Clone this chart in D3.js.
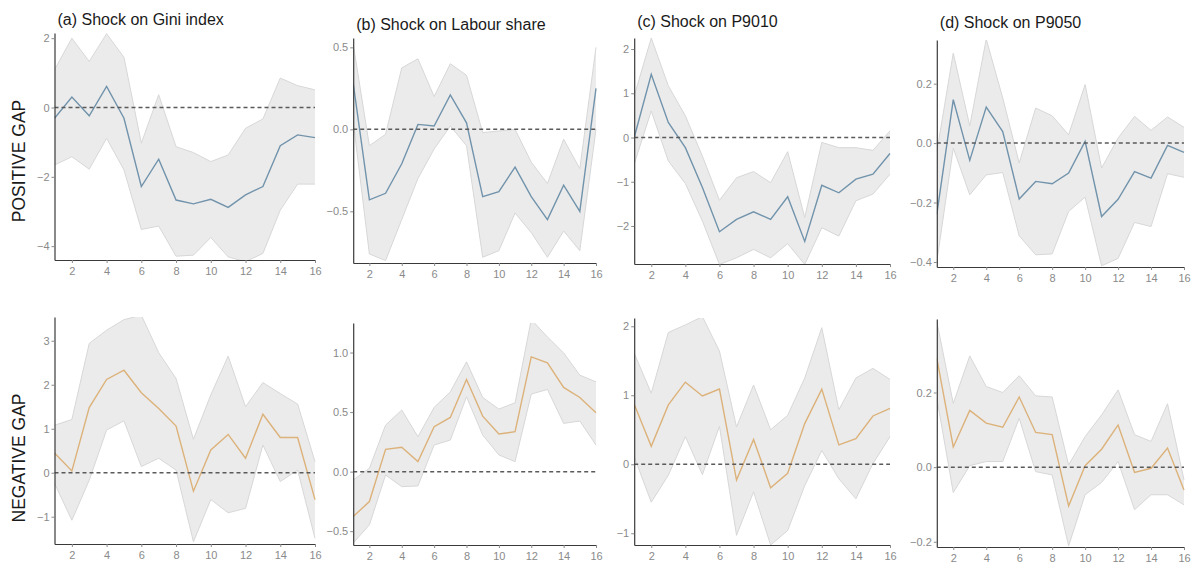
<!DOCTYPE html>
<html>
<head>
<meta charset="utf-8">
<script src="https://cdn.jsdelivr.net/npm/d3@7"></script>
<style>
  html, body { margin: 0; padding: 0; background: #ffffff; }
  svg { display: block; }
  text { font-family: "Liberation Sans", Arial, sans-serif; }
</style>
</head>
<body>
<svg id="chart" width="1191" height="563"></svg>
<script>
// ---------------- DATA ----------------
const horizons = [1, 2, 3, 4, 5, 6, 7, 8, 9, 10, 11, 12, 13, 14, 15, 16];
const xTickValues = [2, 4, 6, 8, 10, 12, 14, 16];

const titles = ["(a) Shock on Gini index", "(b) Shock on Labour share", "(c) Shock on P9010", "(d) Shock on P9050"];
const rowLabels = ["POSITIVE GAP", "NEGATIVE GAP"];

// Positive gap
const posGiniMean = [-0.31, 0.30, -0.24, 0.61, -0.31, -2.28, -1.49, -2.67, -2.78, -2.65, -2.88, -2.52, -2.28, -1.10, -0.79, -0.87];
const posGiniHigh = [1.09, 2.00, 1.33, 2.13, 1.45, -1.03, 0.37, -1.13, -1.30, -1.56, -1.37, -0.60, -0.33, 0.85, 0.63, 0.51];
const posGiniLow  = [-1.66, -1.42, -1.78, -0.89, -1.80, -3.52, -3.42, -4.29, -4.26, -3.75, -4.31, -4.45, -4.21, -2.96, -2.21, -2.21];

const posLabMean = [0.28, -0.43, -0.39, -0.21, 0.03, 0.02, 0.21, 0.04, -0.41, -0.38, -0.23, -0.41, -0.55, -0.34, -0.50, 0.25];
const posLabHigh = [0.52, -0.10, -0.03, 0.375, 0.43, 0.20, 0.40, 0.33, -0.02, -0.01, 0.00, -0.20, -0.33, -0.06, -0.24, 0.50];
const posLabLow  = [0.05, -0.76, -0.80, -0.55, -0.30, -0.12, 0.02, -0.10, -0.78, -0.74, -0.51, -0.63, -0.78, -0.62, -0.74, 0.00];

const pos9010Mean = [0.00, 1.43, 0.34, -0.23, -1.13, -2.13, -1.85, -1.68, -1.85, -1.34, -2.35, -1.08, -1.25, -0.94, -0.83, -0.36];
const pos9010High = [0.94, 2.25, 1.17, 0.49, -0.42, -1.42, -0.91, -0.77, -1.02, -0.32, -1.81, -0.11, -0.23, -0.23, -0.29, 0.15];
const pos9010Low  = [-0.60, 0.60, -0.53, -1.04, -1.89, -2.87, -2.72, -2.53, -2.72, -2.40, -2.87, -2.04, -2.23, -1.43, -1.28, -0.83];

const pos9050Mean = [-0.24, 0.146, -0.058, 0.121, 0.039, -0.188, -0.129, -0.137, -0.101, 0.006, -0.247, -0.189, -0.096, -0.118, -0.008, -0.031];
const pos9050High = [-0.03, 0.303, 0.058, 0.350, 0.152, -0.067, 0.118, 0.092, 0.028, 0.197, -0.084, 0.017, 0.090, 0.043, 0.088, 0.053];
const pos9050Low  = [-0.40, -0.017, -0.174, -0.107, -0.099, -0.312, -0.376, -0.373, -0.230, -0.182, -0.413, -0.388, -0.267, -0.281, -0.103, -0.115];

// Negative gap
const negGiniMean = [0.45, 0.04, 1.48, 2.12, 2.33, 1.82, 1.46, 1.06, -0.42, 0.52, 0.87, 0.33, 1.33, 0.80, 0.80, -0.61];
const negGiniHigh = [1.08, 1.21, 2.94, 3.24, 3.48, 3.58, 2.73, 2.14, 0.76, 1.77, 2.65, 1.50, 2.05, 1.80, 1.56, 0.25];
const negGiniLow  = [-0.24, -1.08, -0.17, 0.97, 1.18, 0.14, 0.33, 0.06, -1.57, -0.61, -0.91, -0.81, 0.63, -0.20, 0.06, -1.49];

const negLabMean = [-0.377, -0.251, 0.187, 0.204, 0.084, 0.377, 0.455, 0.774, 0.466, 0.316, 0.335, 0.964, 0.913, 0.707, 0.623, 0.494];
const negLabHigh = [-0.07, 0.028, 0.391, 0.517, 0.293, 0.539, 0.670, 0.922, 0.623, 0.525, 0.578, 1.277, 1.131, 0.997, 0.810, 0.754];
const negLabLow  = [-0.60, -0.447, -0.028, -0.126, -0.120, 0.223, 0.265, 0.628, 0.307, 0.140, 0.084, 0.651, 0.690, 0.405, 0.425, 0.223];

const neg9010Mean = [0.87, 0.26, 0.86, 1.19, 0.99, 1.09, -0.23, 0.36, -0.34, -0.13, 0.59, 1.09, 0.28, 0.37, 0.70, 0.81];
const neg9010High = [1.61, 1.03, 1.91, 2.02, 2.14, 1.64, 0.54, 1.15, 0.50, 0.71, 1.25, 1.98, 0.79, 1.25, 1.39, 1.23];
const neg9010Low  = [0.11, -0.55, -0.16, 0.40, -0.15, 0.55, -1.03, -0.40, -1.17, -0.96, -0.31, 0.20, -0.21, -0.50, 0.01, 0.40];

const neg9050Mean = [0.292, 0.054, 0.152, 0.118, 0.107, 0.188, 0.093, 0.087, -0.104, 0.004, 0.048, 0.113, -0.014, -0.003, 0.051, -0.061];
const neg9050High = [0.390, 0.171, 0.298, 0.216, 0.200, 0.245, 0.191, 0.188, 0.006, 0.082, 0.140, 0.207, 0.087, 0.069, 0.170, -0.034];
const neg9050Low  = [0.185, -0.068, 0.004, 0.015, 0.015, 0.131, -0.012, -0.021, -0.211, -0.074, -0.041, 0.015, -0.114, -0.074, -0.074, -0.101];

// y tick labels per panel
const ticksPosGini = [-4, -2, 0, 2];
const ticksPosLab  = [-0.5, 0.0, 0.5];
const ticksPos9010 = [-2, -1, 0, 1, 2];
const ticksPos9050 = [-0.4, -0.2, 0.0, 0.2];
const ticksNegGini = [-1, 0, 1, 2, 3];
const ticksNegLab  = [-0.5, 0.0, 0.5, 1.0];
const ticksNeg9010 = [-1, 0, 1, 2];
const ticksNeg9050 = [-0.2, 0.0, 0.2];

// ---------------- LAYOUT ----------------
const colX = [[54.5, 315], [353.2, 596], [634.2, 890], [936.8, 1184]];
const posColor = "#7193ab";
const negColor = "#dcb27a";

const panels = [
  { row: 0, col: 0, mean: posGiniMean, low: posGiniLow, high: posGiniHigh, ticks: ticksPosGini, fmt: d3.format("d"),   dom: [-4.40, 2.15], rng: [260, 33], titleY: 25 },
  { row: 0, col: 1, mean: posLabMean,  low: posLabLow,  high: posLabHigh,  ticks: ticksPosLab,  fmt: d3.format(".1f"), dom: [-0.815, 0.557], rng: [263, 38], titleY: 30 },
  { row: 0, col: 2, mean: pos9010Mean, low: pos9010Low, high: pos9010High, ticks: ticksPos9010, fmt: d3.format("d"),   dom: [-2.86, 2.25], rng: [264, 38], titleY: 27 },
  { row: 0, col: 3, mean: pos9050Mean, low: pos9050Low, high: pos9050High, ticks: ticksPos9050, fmt: d3.format(".1f"), dom: [-0.417, 0.347], rng: [267, 40], titleY: 28 },
  { row: 1, col: 0, mean: negGiniMean, low: negGiniLow, high: negGiniHigh, ticks: ticksNegGini, fmt: d3.format("d"),   dom: [-1.62, 3.54], rng: [544, 317] },
  { row: 1, col: 1, mean: negLabMean,  low: negLabLow,  high: negLabHigh,  ticks: ticksNegLab,  fmt: d3.format(".1f"), dom: [-0.616, 1.248], rng: [545, 323] },
  { row: 1, col: 2, mean: neg9010Mean, low: neg9010Low, high: neg9010High, ticks: ticksNeg9010, fmt: d3.format("d"),   dom: [-1.17, 2.12], rng: [545, 318] },
  { row: 1, col: 3, mean: neg9050Mean, low: neg9050Low, high: neg9050High, ticks: ticksNeg9050, fmt: d3.format(".1f"), dom: [-0.214, 0.397], rng: [547, 319] }
];

const svg = d3.select("#chart");
const defs = svg.append("defs");

panels.forEach((p, i) => {
  const x = d3.scaleLinear().domain([1, 16]).range(colX[p.col]);
  const y = d3.scaleLinear().domain(p.dom).range(p.rng);
  const g = svg.append("g");

  const clipId = "clip" + i;
  defs.append("clipPath").attr("id", clipId)
    .append("rect")
    .attr("x", x.range()[0]).attr("y", p.rng[1])
    .attr("width", x.range()[1] - x.range()[0] + 1)
    .attr("height", p.rng[0] - p.rng[1]);

  const rows = horizons.map((h, k) => ({ h, m: p.mean[k], lo: p.low[k], hi: p.high[k] }));
  const plot = g.append("g").attr("clip-path", `url(#${clipId})`);

  plot.append("path").datum(rows)
    .attr("d", d3.area().x(d => x(d.h)).y0(d => y(d.lo)).y1(d => y(d.hi)))
    .attr("fill", "#ebebeb");
  plot.append("path").datum(rows)
    .attr("d", d3.line().x(d => x(d.h)).y(d => y(d.hi)))
    .attr("fill", "none").attr("stroke", "#d7d7d7").attr("stroke-width", 1);
  plot.append("path").datum(rows)
    .attr("d", d3.line().x(d => x(d.h)).y(d => y(d.lo)))
    .attr("fill", "none").attr("stroke", "#d7d7d7").attr("stroke-width", 1);

  // zero reference line
  g.append("line")
    .attr("x1", x(1)).attr("x2", x(16))
    .attr("y1", y(0)).attr("y2", y(0))
    .attr("stroke", "#5a5a5a").attr("stroke-width", 1.5)
    .attr("stroke-dasharray", "4,3");

  plot.append("path").datum(rows)
    .attr("d", d3.line().x(d => x(d.h)).y(d => y(d.m)))
    .attr("fill", "none")
    .attr("stroke", p.row === 0 ? posColor : negColor)
    .attr("stroke-width", 1.4);

  // axes
  const ya = g.append("g").attr("transform", `translate(${x(1)},0)`)
    .call(d3.axisLeft(y).tickValues(p.ticks).tickFormat(p.fmt).tickSize(3).tickPadding(2).tickSizeOuter(0));
  const xa = g.append("g").attr("transform", `translate(0,${p.rng[0]})`)
    .call(d3.axisBottom(x).tickValues(xTickValues).tickFormat(d3.format("d")).tickSize(3).tickPadding(4).tickSizeOuter(0));

  [ya, xa].forEach(a => {
    a.select(".domain").attr("stroke", "#3a3a3a").attr("stroke-width", 1.2);
    a.selectAll(".tick line").attr("stroke", "#8a8a8a").attr("stroke-width", 1);
    a.selectAll(".tick text").attr("fill", "#8a8a8a")
      .style("font-family", "'Liberation Sans', Arial, sans-serif").style("font-size", "11px");
  });

  if (p.row === 0) {
    g.append("text")
      .attr("x", x(1) + 3).attr("y", p.titleY)
      .attr("fill", "#1a1a1a")
      .style("font-size", "16px")
      .text(titles[p.col]);
  }
});

// row labels
[[25, 161], [25, 458]].forEach((pos, r) => {
  svg.append("text")
    .attr("transform", `translate(${pos[0]},${pos[1]}) rotate(-90)`)
    .attr("text-anchor", "middle")
    .attr("fill", "#1a1a1a")
    .style("font-size", "17.5px")
    .text(rowLabels[r]);
});
</script>
</body>
</html>
